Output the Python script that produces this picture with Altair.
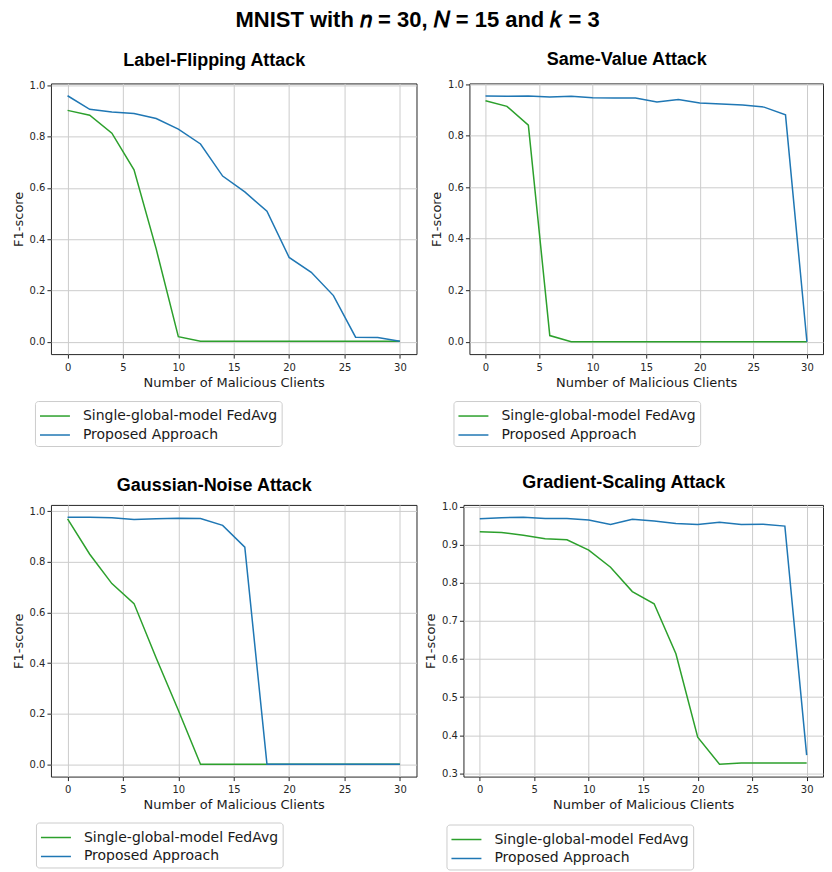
import altair as alt
import pandas as pd

clients = list(range(0, 31, 2))
series_names = ["Single-global-model FedAvg", "Proposed Approach"]
series_colors = ["#2ca02c", "#1f77b4"]

lf_fedavg = [0.902, 0.883, 0.813, 0.670, 0.362, 0.020, 0.002, 0.002, 0.002, 0.002, 0.002, 0.002, 0.002, 0.002, 0.002, 0.002]
lf_proposed = [0.959, 0.906, 0.896, 0.890, 0.870, 0.829, 0.771, 0.646, 0.584, 0.509, 0.329, 0.271, 0.180, 0.018, 0.017, 0.002]

sv_fedavg = [0.936, 0.914, 0.841, 0.024, 0.000, 0.000, 0.000, 0.000, 0.000, 0.000, 0.000, 0.000, 0.000, 0.000, 0.000, 0.000]
sv_proposed = [0.954, 0.953, 0.954, 0.950, 0.953, 0.947, 0.946, 0.946, 0.931, 0.941, 0.927, 0.923, 0.919, 0.911, 0.881, 0.000]

gn_fedavg = [0.970, 0.830, 0.714, 0.635, 0.420, 0.213, 0.000, 0.000, 0.000, 0.000, 0.000, 0.000, 0.000, 0.000, 0.000, 0.000]
gn_proposed = [0.976, 0.976, 0.974, 0.967, 0.970, 0.972, 0.971, 0.944, 0.858, 0.000, 0.000, 0.000, 0.000, 0.000, 0.000, 0.000]

gs_fedavg = [0.934, 0.932, 0.925, 0.916, 0.913, 0.886, 0.841, 0.777, 0.745, 0.614, 0.395, 0.324, 0.327, 0.327, 0.327, 0.327]
gs_proposed = [0.968, 0.971, 0.972, 0.969, 0.969, 0.965, 0.953, 0.967, 0.962, 0.956, 0.953, 0.959, 0.953, 0.954, 0.949, 0.348]

x_ticks = [0, 5, 10, 15, 20, 25, 30]
y_ticks_a = [0.0, 0.2, 0.4, 0.6, 0.8, 1.0]
y_ticks_b = [0.3, 0.4, 0.5, 0.6, 0.7, 0.8, 0.9, 1.0]

main_title = "MNIST with \U0001D45B = 30, \U0001D441 = 15 and \U0001D458 = 3"


def panel(title, fedavg, proposed, ydomain, yticks, width, height, lx, ly):
    rows = []
    for name, vals in zip(series_names, [fedavg, proposed]):
        for c, v in zip(clients, vals):
            rows.append({"clients": c, "f1": v, "series": name})
    df = pd.DataFrame(rows)
    return alt.Chart(df).mark_line(strokeWidth=1.5).encode(
        x=alt.X("clients:Q",
                scale=alt.Scale(domain=[-1.5, 31.5], nice=False, zero=False),
                axis=alt.Axis(values=x_ticks, title="Number of Malicious Clients", format="d")),
        y=alt.Y("f1:Q",
                scale=alt.Scale(domain=ydomain, nice=False, zero=False),
                axis=alt.Axis(values=yticks, title="F1-score", format=".1f")),
        color=alt.Color("series:N",
                        scale=alt.Scale(domain=series_names, range=series_colors),
                        legend=alt.Legend(title=None, orient="none", legendX=lx, legendY=ly)),
    ).properties(
        width=width, height=height,
        title=alt.TitleParams(title, font="Liberation Sans", fontSize=18, fontWeight="bold",
                              color="#000000", anchor="middle", frame="bounds", offset=10),
    )


p1 = panel("Label-Flipping Attack", lf_fedavg, lf_proposed, [-0.048, 1.007], y_ticks_a, 366, 271, -16, 318)
p2 = panel("Same-Value Attack", sv_fedavg, sv_proposed, [-0.048, 1.003], y_ticks_a, 354, 271, -16, 318)
p3 = panel("Gaussian-Noise Attack", gn_fedavg, gn_proposed, [-0.049, 1.025], y_ticks_a, 366, 272, -15, 318)
p4 = panel("Gradient-Scaling Attack", gs_fedavg, gs_proposed, [0.2915, 1.0045], y_ticks_b, 360, 272, -17, 320)

row1 = alt.hconcat(p1, p2, spacing=12).resolve_scale(color="independent")
row2 = alt.hconcat(p3, p4, spacing=6).resolve_scale(color="independent")

chart = alt.vconcat(row1, row2, spacing=26).resolve_scale(color="independent").properties(
    title=alt.TitleParams(main_title, font="Liberation Sans, DejaVu Serif", fontSize=22,
                          fontWeight="bold", color="#000000", anchor="middle", offset=19),
    padding={"left": 3, "top": 0, "right": 0, "bottom": 0},
).configure_view(
    stroke="#262626", strokeWidth=1
).configure_axis(
    grid=True, gridColor="#cccccc", gridWidth=1, domain=False,
    tickColor="#262626", tickSize=4, labelColor="#262626", labelFont="DejaVu Sans",
    labelFontSize=10, labelPadding=4, titleFont="DejaVu Sans", titleFontSize=13,
    titleFontWeight="normal", titleColor="#1a1a1a", titlePadding=4,
).configure_axisY(
    labelPadding=2,
).configure_legend(
    labelFont="DejaVu Sans", labelFontSize=14, labelColor="#1a1a1a", labelLimit=400,
    symbolType="M-1,0H2", symbolSize=400, symbolStrokeWidth=1.5,
    strokeColor="#cccccc", fillColor="#ffffff", padding=4, cornerRadius=3,
    rowPadding=1, labelOffset=22,
)

chart.save("out.html", embed_options={"renderer": "svg", "actions": False})
